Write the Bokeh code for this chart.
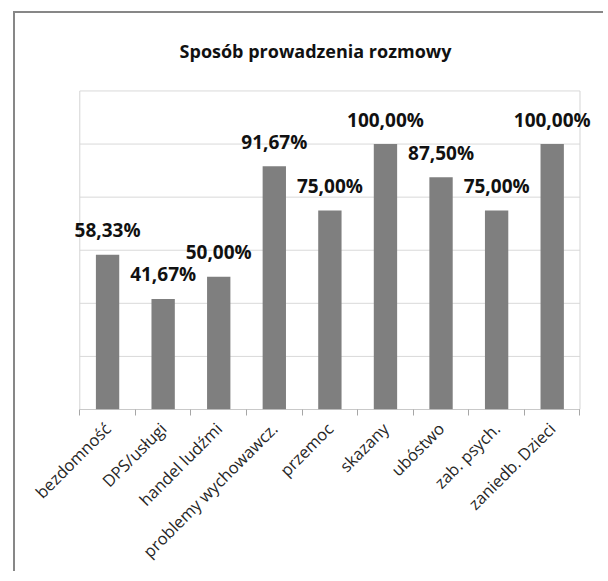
import math
from bokeh.plotting import figure
from bokeh.models import FixedTicker, Range1d, ColumnDataSource, LabelSet, Label
from bokeh.core.properties import value
from bokeh.embed import file_html
from bokeh.resources import INLINE

chart_title = "Sposób prowadzenia rozmowy"
categories = ["bezdomność", "DPS/usługi", "handel ludźmi", "problemy wychowawcz.",
              "przemoc", "skazany", "ubóstwo", "zab. psych.", "zaniedb. Dzieci"]
values = [58.33, 41.67, 50.00, 91.67, 75.00, 100.00, 87.50, 75.00, 100.00]
y_ticks = [0, 20, 40, 60, 80, 100, 120]

n = len(categories)
xs = [i + 0.5 for i in range(n)]
labels = [f"{v:.2f}".replace(".", ",") + "%" for v in values]
src = ColumnDataSource(dict(x=xs, top=values, label=labels))

# frame is widened/heightened beyond the plot box so that labels are never clipped
p = figure(width=590, height=560, title=None,
           x_range=Range1d(-0.167, n + 0.459), y_range=Range1d(0, y_ticks[-1] + 27.3),
           output_backend="svg", toolbar_location=None,
           min_border_left=55, min_border_right=0, min_border_top=5, min_border_bottom=162)
p.margin = (11, 0, 0, 13)
p.styles = {"border-style": "solid none none solid", "border-width": "2px 0px 0px 2px",
            "border-color": "#878787"}
p.background_fill_color = "white"
p.border_fill_color = "white"
p.outline_line_color = None
p.xgrid.visible = False
p.ygrid.visible = False
p.yaxis.visible = False

# plot-area grid lines and box
p.segment(x0=[0] * len(y_ticks), x1=[n] * len(y_ticks), y0=y_ticks, y1=y_ticks,
          line_color="#d9d9d9", line_width=1)
p.segment(x0=[0, n], x1=[0, n], y0=[y_ticks[0]] * 2, y1=[y_ticks[-1]] * 2,
          line_color="#d4d4d4", line_width=1)

p.vbar(x="x", top="top", width=0.42, source=src, fill_color="#7f7f7f", line_color=None)

# category axis baseline
p.segment(x0=[0], x1=[n], y0=[0], y1=[0], line_color="#a6a6a6", line_width=1)

ls = LabelSet(x="x", y="top", text="label", source=src, text_align="center",
              text_baseline="alphabetic", y_offset=17.5,
              text_font=value("Open Sans"), text_font_style="bold", text_font_size="19px",
              text_color="#111111")
p.add_layout(ls)

title = Label(x=245, y=359, x_units="screen", y_units="screen", text=chart_title,
              text_align="center", text_baseline="alphabetic",
              text_font="Open Sans", text_font_style="bold", text_font_size="18px",
              text_color="#111111")
p.add_layout(title)

p.xaxis.ticker = FixedTicker(ticks=xs, minor_ticks=list(range(n + 1)))
p.xaxis.major_label_overrides = {x: c for x, c in zip(xs, categories)}
p.xaxis.axis_line_color = None
p.xaxis.major_tick_line_color = None
p.xaxis.minor_tick_line_color = "#a6a6a6"
p.xaxis.minor_tick_in = 0
p.xaxis.minor_tick_out = 6
p.xaxis.major_label_orientation = math.pi / 4
p.xaxis.major_label_text_font = "Open Sans"
p.xaxis.major_label_text_font_size = "16.5px"
p.xaxis.major_label_text_color = "#262626"
p.xaxis.major_label_standoff = 10

open("out.html", "w").write(file_html(p, INLINE))
